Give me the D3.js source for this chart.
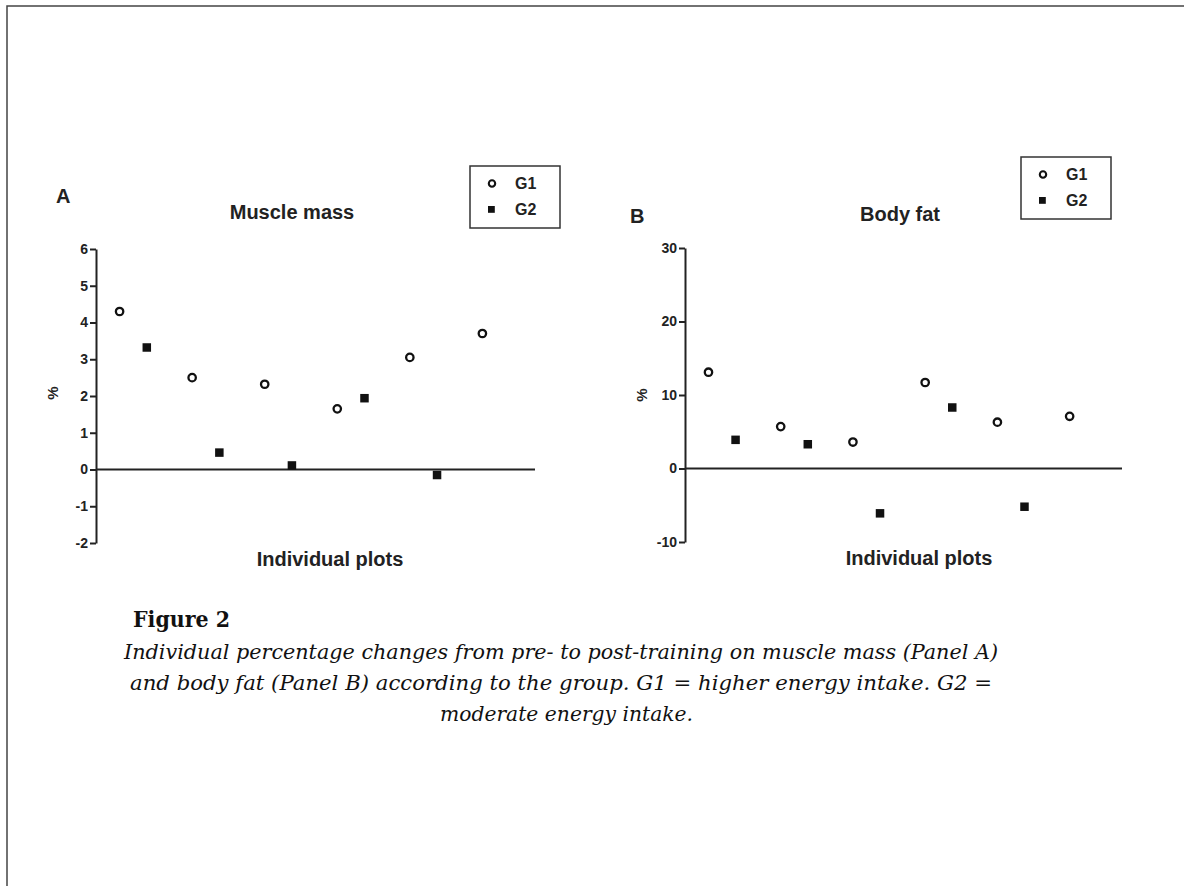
<!DOCTYPE html>
<html>
<head>
<meta charset="utf-8">
<script src="https://cdn.jsdelivr.net/npm/d3@7"></script>
<style>
  body { margin: 0; background: #fff; }
  svg { display: block; }
  .tick text { font-family: "Liberation Sans", Arial, sans-serif; font-weight: bold; font-size: 14px; fill: #222; }
  .lbl { font-family: "Liberation Sans", Arial, sans-serif; font-weight: bold; fill: #222; }
  .cap { font-family: "DejaVu Serif", "Liberation Serif", serif; fill: #111; }
</style>
</head>
<body>
<script>
const w = 1184;
const h = 886;

// individual order along the x axis (no scale shown)
const g1Pos = [1, 3, 5, 7, 9, 11];
const g2Pos = [1.75, 3.75, 5.75, 7.75, 9.75];

// panel A: muscle mass, % change
const muscleG1 = [4.3, 2.5, 2.32, 1.65, 3.05, 3.7];
const muscleG2 = [3.32, 0.46, 0.11, 1.94, -0.15];
const muscleTicks = [-2, -1, 0, 1, 2, 3, 4, 5, 6];

// panel B: body fat, % change
const fatG1 = [13.1, 5.7, 3.6, 11.7, 6.3, 7.1];
const fatG2 = [3.9, 3.3, -6.1, 8.3, -5.2];
const fatTicks = [-10, 0, 10, 20, 30];

const captionLines = [
  "Individual percentage changes from pre- to post-training on muscle mass (Panel A)",
  "and body fat (Panel B) according to the group. G1 = higher energy intake. G2 =",
  "moderate energy intake."
];

const svg = d3.select("body")
              .append("svg")
              .attr("width", w)
              .attr("height", h)

// page frame (top and left edges only)
svg.append("path")
   .attr("d", "M7," + h + "V6H" + w)
   .attr("fill", "none")
   .attr("stroke", "#444")
   .attr("stroke-width", 1.5)

function panel(cfg) {
  const xScale = d3.scaleLinear()
                   .domain([0.35, 12.45])
                   .range([cfg.left, cfg.right]);
  const yScale = d3.scaleLinear()
                   .domain(cfg.yDomain)
                   .range([cfg.bottom, cfg.top]);

  const g = svg.append("g");

  const yAxis = d3.axisLeft(yScale)
                  .tickValues(cfg.ticks)
                  .tickFormat(d => String(d))
                  .tickSize(6)
                  .tickSizeOuter(0)
                  .tickPadding(2);

  const ax = g.append("g")
              .attr("transform", "translate(" + cfg.left + ",0)")
              .call(yAxis);
  ax.select(".domain").attr("stroke", "#222").attr("stroke-width", 2);
  ax.selectAll(".tick line").attr("stroke", "#222").attr("stroke-width", 2);

  // zero line
  g.append("line")
   .attr("x1", cfg.left)
   .attr("x2", cfg.right)
   .attr("y1", yScale(0))
   .attr("y2", yScale(0))
   .attr("stroke", "#222")
   .attr("stroke-width", 2)

  g.selectAll("rect.g2")
   .data(cfg.g2)
   .enter()
   .append("rect")
   .attr("class", "g2")
   .attr("x", (d, i) => xScale(g2Pos[i]) - 4.25)
   .attr("y", d => yScale(d) - 4.25)
   .attr("width", 8.5)
   .attr("height", 8.5)
   .attr("fill", "#111")

  g.selectAll("circle.g1")
   .data(cfg.g1)
   .enter()
   .append("circle")
   .attr("class", "g1")
   .attr("cx", (d, i) => xScale(g1Pos[i]))
   .attr("cy", d => yScale(d))
   .attr("r", 3.7)
   .attr("fill", "#fff")
   .attr("stroke", "#111")
   .attr("stroke-width", 2.3)

  g.append("text")
   .attr("class", "lbl")
   .attr("x", cfg.letterX)
   .attr("y", cfg.letterY)
   .attr("font-size", 20)
   .text(cfg.letter)

  g.append("text")
   .attr("class", "lbl")
   .attr("x", cfg.titleX)
   .attr("y", cfg.titleY)
   .attr("font-size", 20)
   .attr("text-anchor", "middle")
   .text(cfg.title)

  g.append("text")
   .attr("class", "lbl")
   .attr("transform", "translate(" + cfg.pctX + "," + cfg.pctY + ") rotate(-90)")
   .attr("font-size", 15)
   .attr("text-anchor", "middle")
   .text("%")

  g.append("text")
   .attr("class", "lbl")
   .attr("x", cfg.xLabelX)
   .attr("y", cfg.xLabelY)
   .attr("font-size", 20)
   .attr("text-anchor", "middle")
   .text("Individual plots")

  // legend
  const lg = g.append("g").attr("transform", "translate(" + cfg.legX + "," + cfg.legY + ")");
  lg.append("rect")
    .attr("width", 90)
    .attr("height", 62)
    .attr("fill", "#fff")
    .attr("stroke", "#333")
    .attr("stroke-width", 1.5)
  lg.append("circle")
    .attr("cx", 22).attr("cy", 17.5).attr("r", 3.2)
    .attr("fill", "#fff").attr("stroke", "#111").attr("stroke-width", 2.1)
  lg.append("rect")
    .attr("x", 18).attr("y", 40).attr("width", 6.8).attr("height", 6.8)
    .attr("fill", "#111")
  lg.append("text").attr("class", "lbl").attr("x", 45).attr("y", 23)
    .attr("font-size", 16).text("G1")
  lg.append("text").attr("class", "lbl").attr("x", 45).attr("y", 49)
    .attr("font-size", 16).text("G2")
}

panel({
  left: 96, right: 535, top: 249, bottom: 543,
  yDomain: [-2, 6], ticks: muscleTicks,
  g1: muscleG1, g2: muscleG2,
  letter: "A", letterX: 56, letterY: 203,
  title: "Muscle mass", titleX: 292, titleY: 219,
  pctX: 58, pctY: 393,
  xLabelX: 330, xLabelY: 566,
  legX: 470, legY: 166
})

panel({
  left: 685, right: 1122, top: 248, bottom: 542,
  yDomain: [-10, 30], ticks: fatTicks,
  g1: fatG1, g2: fatG2,
  letter: "B", letterX: 630, letterY: 223,
  title: "Body fat", titleX: 900, titleY: 221,
  pctX: 647, pctY: 395,
  xLabelX: 919, xLabelY: 565,
  legX: 1021, legY: 157
})

// caption
svg.append("text")
   .attr("class", "cap")
   .attr("x", 133)
   .attr("y", 627)
   .attr("font-size", 22)
   .attr("font-weight", "bold")
   .attr("textLength", 97)
   .attr("lengthAdjust", "spacingAndGlyphs")
   .text("Figure 2")

svg.selectAll("text.capline")
   .data(captionLines)
   .enter()
   .append("text")
   .attr("class", "cap capline")
   .attr("x", (d, i) => [124, 130, 440][i])
   .attr("y", (d, i) => 659 + i * 31)
   .attr("font-size", 21)
   .attr("font-style", "italic")
   .attr("textLength", (d, i) => [874, 862, 253][i])
   .attr("lengthAdjust", "spacingAndGlyphs")
   .text(d => d)
</script>
</body>
</html>
